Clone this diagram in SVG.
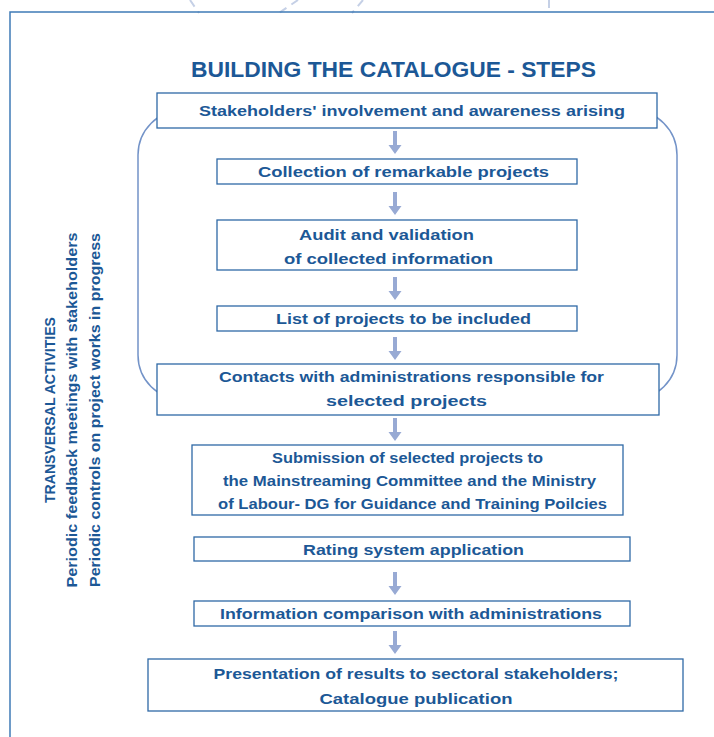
<svg xmlns="http://www.w3.org/2000/svg" width="714" height="737" viewBox="0 0 714 737">
<defs>
<style>
.frame{fill:none;stroke:#3f7bb7;stroke-width:1.5}
.bg{fill:none;stroke:#c5d0e6;stroke-width:2;stroke-dasharray:8 6}
.loop{fill:none;stroke:#7393c8;stroke-width:1.5}
.box{fill:#ffffff;stroke:#2f69a6;stroke-width:1.3}
.t{font-family:"Liberation Sans",Arial,sans-serif;font-weight:bold;font-size:15px;fill:#1c5896;text-anchor:middle}
.title{font-family:"Liberation Sans",Arial,sans-serif;font-weight:bold;font-size:22.5px;fill:#1c5896;text-anchor:middle}
.side{font-family:"Liberation Sans",Arial,sans-serif;font-weight:bold;font-size:14px;fill:#1c5896;text-anchor:middle}
.arr{fill:#98aad4}
</style>
<path id="ar" d="M-2,0 H2 V14 H6.5 L0,23 L-6.5,14 H-2 Z"/>
</defs>
<g id="background">
<line class="bg" x1="190" y1="0" x2="199" y2="13"/>
<line class="bg" x1="298" y1="0" x2="279" y2="13"/>
<line class="bg" x1="363" y1="0" x2="352" y2="13"/>
<line class="bg" x1="549" y1="0" x2="549" y2="12"/>
<path class="frame" d="M10,737 V12 H714"/>
</g>
<text class="title" x="393.5" y="77" textLength="405" lengthAdjust="spacingAndGlyphs">BUILDING THE CATALOGUE - STEPS</text>
<g id="transversal">
<text class="side" transform="translate(55,410) rotate(-90)" textLength="186" lengthAdjust="spacingAndGlyphs">TRANSVERSAL ACTIVITIES</text>
<text class="side" transform="translate(77,410) rotate(-90)" textLength="355" lengthAdjust="spacingAndGlyphs">Periodic feedback meetings with stakeholders</text>
<text class="side" transform="translate(100,410) rotate(-90)" textLength="354" lengthAdjust="spacingAndGlyphs">Periodic controls on project works in progress</text>
</g>
<g id="loop">
<rect class="loop" x="138" y="110" width="539" height="290" rx="45" ry="45"/>
</g>
<g id="connectors">
<use href="#ar" class="arr" x="395" y="131"/>
<use href="#ar" class="arr" x="395" y="192"/>
<use href="#ar" class="arr" x="395" y="277"/>
<use href="#ar" class="arr" x="395" y="337"/>
<use href="#ar" class="arr" x="395" y="418"/>
<use href="#ar" class="arr" x="395" y="572"/>
<use href="#ar" class="arr" x="395" y="631"/>
</g>
<g id="n1">
<rect class="box" x="157" y="93" width="500" height="35"/>
<text class="t" x="412" y="116" textLength="426" lengthAdjust="spacingAndGlyphs">Stakeholders' involvement and awareness arising</text>
</g>
<g id="n2">
<rect class="box" x="217" y="159" width="360" height="25"/>
<text class="t" x="403.5" y="177" textLength="291" lengthAdjust="spacingAndGlyphs">Collection of remarkable projects</text>
</g>
<g id="n3">
<rect class="box" x="217" y="220" width="360" height="50"/>
<text class="t" x="386.5" y="240" textLength="175" lengthAdjust="spacingAndGlyphs">Audit and validation</text>
<text class="t" x="388.5" y="264" textLength="209" lengthAdjust="spacingAndGlyphs">of collected information</text>
</g>
<g id="n4">
<rect class="box" x="217" y="306" width="360" height="25"/>
<text class="t" x="403.5" y="324" textLength="255" lengthAdjust="spacingAndGlyphs">List of projects to be included</text>
</g>
<g id="n5">
<rect class="box" x="157" y="364" width="502" height="51"/>
<text class="t" x="411.5" y="382" textLength="385" lengthAdjust="spacingAndGlyphs">Contacts with administrations responsible for</text>
<text class="t" x="406.5" y="406" textLength="161" lengthAdjust="spacingAndGlyphs">selected projects</text>
</g>
<g id="n6">
<rect class="box" x="192" y="445" width="431" height="70"/>
<text class="t" x="407.5" y="463" textLength="271" lengthAdjust="spacingAndGlyphs">Submission of selected projects to</text>
<text class="t" x="409.5" y="486" textLength="373" lengthAdjust="spacingAndGlyphs">the Mainstreaming Committee and the Ministry</text>
<text class="t" x="412.5" y="509" textLength="389" lengthAdjust="spacingAndGlyphs">of Labour- DG for Guidance and Training Poilcies</text>
</g>
<g id="n7">
<rect class="box" x="194" y="537" width="436" height="24"/>
<text class="t" x="413.5" y="555" textLength="221" lengthAdjust="spacingAndGlyphs">Rating system application</text>
</g>
<g id="n8">
<rect class="box" x="194" y="601" width="436" height="25"/>
<text class="t" x="411" y="619" textLength="382" lengthAdjust="spacingAndGlyphs">Information comparison with administrations</text>
</g>
<g id="n9">
<rect class="box" x="148" y="659" width="535" height="52"/>
<text class="t" x="416" y="679" textLength="405" lengthAdjust="spacingAndGlyphs">Presentation of results to sectoral stakeholders;</text>
<text class="t" x="416" y="704" textLength="193" lengthAdjust="spacingAndGlyphs">Catalogue publication</text>
</g>
</svg>
